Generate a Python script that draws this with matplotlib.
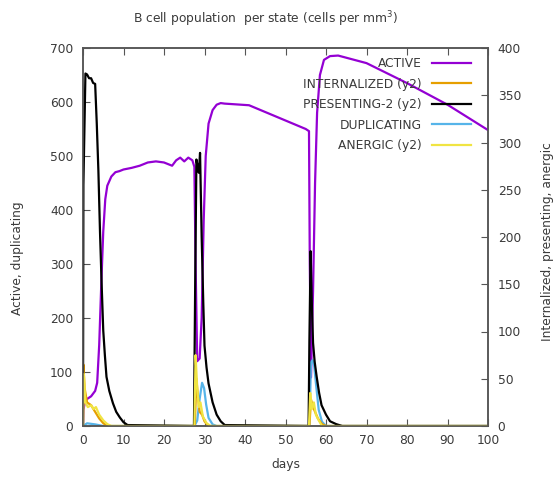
import matplotlib
matplotlib.use("Agg")
import matplotlib.pyplot as plt

# ---------------- data ----------------
active_days = [0, 0.1, 0.5, 1, 2, 3, 3.5, 4, 4.5, 5, 5.5, 6, 7, 8, 9, 10, 12, 14, 16, 18,
               20, 21, 22, 23, 24, 25, 26, 27, 27.5, 27.8, 28.2, 28.8, 29.3, 29.8, 30.3,
               31, 32, 33, 34, 35, 41, 48, 55, 55.8, 56.0, 56.3, 56.8, 57.3, 57.8, 58.5,
               59.5, 61, 63, 65, 70, 80, 90, 100]
active_vals = [0, 30, 45, 50, 55, 65, 80, 150, 260, 360, 420, 445, 462, 470, 472, 475, 478,
               482, 488, 490, 488, 485, 482, 492, 497, 490, 497, 492, 480, 300, 120, 125,
               200, 380, 500, 560, 585, 595, 598, 597, 594, 572, 550, 546, 300, 90, 250,
               450, 580, 650, 678, 685, 686, 682, 672, 635, 595, 548]

internalized_days = [0, 0.1, 0.4, 1, 2, 3, 4, 5, 6, 27.6, 28.0, 28.4, 28.8, 29.4, 30, 31,
                     55.9, 56.3, 56.8, 57.3, 58, 59, 60, 100]
internalized_vals = [0, 65, 40, 25, 22, 15, 8, 3, 0, 0, 50, 30, 15, 12, 5, 0,
                     0, 28, 20, 15, 8, 2, 0, 0]

presenting_days = [0, 0.1, 0.6, 1.0, 1.5, 2, 2.5, 3, 3.4, 3.8, 4.2, 4.6, 5, 5.4, 5.8, 6.5,
                   7.4, 8.2, 9.1, 10, 11, 27.4, 27.7, 28.0, 28.3, 28.6, 28.9, 29.3, 29.7,
                   30.0, 30.5, 31, 32, 33, 34, 35, 55.7, 55.9, 56.2, 56.5, 56.8, 57.2,
                   57.7, 58.3, 58.9, 60, 61, 62.5, 64, 100]
presenting_vals = [0, 255, 373, 372, 368, 368, 363, 362, 320, 270, 205, 150, 101, 75, 52,
                   37, 24, 15, 9, 4, 1, 0, 150, 282, 275, 268, 289, 200, 130, 85, 62, 45,
                   25, 12, 5, 1, 0, 90, 185, 130, 88, 68, 52, 35, 22, 12, 5, 2, 0, 0]

duplicating_days = [0, 1, 3, 5, 27.5, 28.2, 28.8, 29.4, 29.9, 30.4, 31, 32, 33,
                    55.9, 56.3, 56.7, 57.1, 57.5, 58.2, 59, 60, 100]
duplicating_vals = [0, 5, 3, 0, 0, 10, 50, 80, 70, 40, 15, 3, 0,
                    0, 118, 122, 110, 80, 30, 8, 0, 0]

anergic_days = [0, 0.2, 0.6, 1.2, 2, 2.6, 3.2, 4, 5, 6, 7, 27.5, 27.8, 28.2, 28.6, 29,
                29.6, 30.5, 31.5, 55.8, 56.1, 56.5, 57, 57.5, 58.2, 59, 100]
anergic_vals = [0, 55, 25, 20, 22, 18, 20, 12, 6, 2, 0, 0, 75, 40, 20, 25,
                10, 3, 0, 0, 35, 18, 25, 12, 6, 0, 0]

labels = ["ACTIVE", "INTERNALIZED (y2)", "PRESENTING-2 (y2)", "DUPLICATING", "ANERGIC (y2)"]
colors = ["#9400d3", "#e69f00", "#000000", "#56b4e9", "#f0e442"]

x_ticks = [0, 10, 20, 30, 40, 50, 60, 70, 80, 90, 100]
y1_ticks = [0, 100, 200, 300, 400, 500, 600, 700]
y2_ticks = [0, 50, 100, 150, 200, 250, 300, 350, 400]

# ---------------- plot ----------------
plt.rcParams['font.family'] = ['DejaVu Sans']
fs = 8.8
text_col = "#3a3a3a"
spine_col = "#555555"

fig = plt.figure(figsize=(5.59, 4.88), dpi=100)
ax = fig.add_axes([83/559, 1-426/488, (488-83)/559, (426-48)/488])
ax2 = ax.twinx()

lw = 1.6
l_act, = ax.plot(active_days, active_vals, color=colors[0], lw=lw)
l_dup, = ax.plot(duplicating_days, duplicating_vals, color=colors[3], lw=lw)
l_int, = ax2.plot(internalized_days, internalized_vals, color=colors[1], lw=lw)
l_pre, = ax2.plot(presenting_days, presenting_vals, color=colors[2], lw=lw)
l_ane, = ax2.plot(anergic_days, anergic_vals, color=colors[4], lw=lw)

ax.set_xlim(0, 100)
ax.set_ylim(0, 700)
ax2.set_ylim(0, 400)
ax.set_xticks(x_ticks)
ax.set_yticks(y1_ticks)
ax2.set_yticks(y2_ticks)

for a in (ax, ax2):
    for s in a.spines.values():
        s.set_color(spine_col)
        s.set_linewidth(1.1)
    a.tick_params(direction="in", length=5, color=spine_col, labelsize=fs,
                  labelcolor=text_col, width=0.8)
ax.tick_params(axis="x", top=True, pad=6)
ax.tick_params(axis="y", pad=7)
ax2.tick_params(axis="y", pad=7)

ax.set_xlabel("days", fontsize=fs, color=text_col, labelpad=8)
fig.text(18/559, 1-258/488, "Active, duplicating", rotation=90, ha="center",
         va="center", fontsize=fs, color=text_col)
fig.text(548/559, 1-242/488, "Internalized, presenting, anergic", rotation=90,
         ha="center", va="center", fontsize=fs, color=text_col)
fig.text(266/559, 1-19/488, "B cell population  per state (cells per mm$^3$)",
         ha="center", va="center", fontsize=fs, color=text_col)

handles = [l_act, l_int, l_pre, l_dup, l_ane]
leg = fig.legend(handles, labels, loc="upper right", bbox_to_anchor=(471/559, 1-57/488),
                 bbox_transform=fig.transFigure, frameon=False, markerfirst=False,
                 fontsize=fs, handlelength=3.2, labelspacing=0.62, handletextpad=0.8,
                 borderpad=0, borderaxespad=0)
for t in leg.get_texts():
    t.set_color(text_col)

fig.savefig("out.png", dpi=100)
